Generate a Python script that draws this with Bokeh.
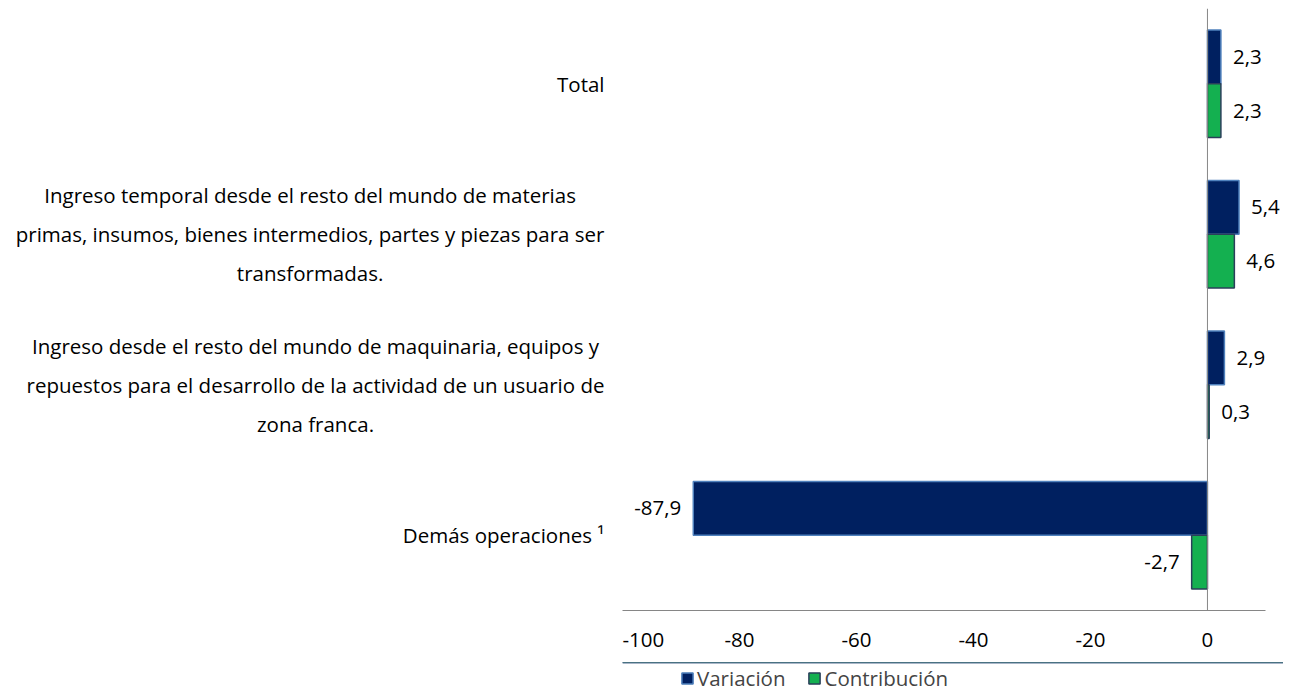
from bokeh.plotting import figure
from bokeh.models import (ColumnDataSource, FactorRange, Range1d, Span, Legend, LegendItem,
                          FixedTicker, LabelSet)
from bokeh.layouts import row, column
from bokeh.transform import dodge
from bokeh.core.properties import value
from bokeh.embed import file_html
from bokeh.resources import INLINE

# ---- data ----
categories = [
    "Total",
    "Ingreso temporal desde el resto del mundo de materias\nprimas, insumos, bienes intermedios, partes y piezas para ser\ntransformadas.",
    "Ingreso desde el resto del mundo de maquinaria, equipos y\nrepuestos para el desarrollo de la actividad de un usuario de\nzona franca.",
    "Demás operaciones ¹",
]
variacion = [2.3, 5.4, 2.9, -87.9]
contribucion = [2.3, 4.6, 0.3, -2.7]
series_names = ["Variación", "Contribución"]
x_ticks = [-100, -80, -60, -40, -20, 0]
axis_min, axis_max = -100, 10

FONT = "Open Sans"
FS = "20.5px"
NAVY = "#002060"
NAVY_LINE = "#4F81BD"
GREEN = "#14B050"
GREEN_LINE = "#2A3F5A"

factors = list(reversed(categories))
y_range = FactorRange(factors=factors, range_padding=0)


def fmt(v):
    return f"{v:.1f}".replace(".", ",")


def label_cols(vals):
    return dict(
        cat=categories,
        val=vals,
        lab=[fmt(v) for v in vals],
        align=["left" if v >= 0 else "right" for v in vals],
        off=[12 if v >= 0 else -12 for v in vals],
    )


src_v = ColumnDataSource(label_cols(variacion))
src_c = ColumnDataSource(label_cols(contribucion))

# ---- chart ----
px_per_unit = 643 / (axis_max - axis_min)
x_end = axis_max + 3  # room for value labels beyond the axis end
FW = int(round((x_end - axis_min) * px_per_unit))
p = figure(y_range=y_range, x_range=Range1d(axis_min, x_end),
           frame_width=FW, frame_height=602,
           output_backend="svg", toolbar_location=None, y_axis_location=None,
           min_border_left=0, min_border_right=0, min_border_top=8, min_border_bottom=52)
p.outline_line_color = None
p.grid.visible = False

bw = 0.357
bar_styles = [dict(fill_color=NAVY, line_color=NAVY_LINE, line_width=1.5),
              dict(fill_color=GREEN, line_color=GREEN_LINE, line_width=1.5)]
p.hbar(y=dodge("cat", bw / 2, range=y_range), left=0, right="val", height=bw, source=src_v,
       **bar_styles[0])
p.hbar(y=dodge("cat", -bw / 2, range=y_range), left=0, right="val", height=bw, source=src_c,
       **bar_styles[1])

for src, d in ((src_v, bw / 2), (src_c, -bw / 2)):
    p.add_layout(LabelSet(x="val", y=dodge("cat", d, range=y_range), text="lab", source=src,
                          x_offset="off", text_align="align", text_baseline="middle",
                          text_font=value(FONT), text_font_size=FS, text_color="black"))

p.add_layout(Span(location=0, dimension="height", line_color="#868686", line_width=1))

ax = p.xaxis[0]
ax.ticker = FixedTicker(ticks=x_ticks)
ax.bounds = (axis_min, axis_max)
ax.major_label_overrides = {t: str(t) for t in x_ticks}
ax.axis_line_color = "#868686"
ax.major_tick_line_color = None
ax.minor_tick_line_color = None
ax.major_tick_out = 0
ax.major_tick_in = 0
ax.minor_tick_out = 0
ax.minor_tick_in = 0
ax.axis_label = None
ax.major_label_standoff = 22
ax.axis_label_standoff = 0
ax.major_label_text_font = FONT
ax.major_label_text_font_size = FS
ax.major_label_text_color = "black"

# ---- legend strip (own small figure, so the legend sits inside a frame) ----
lg = figure(x_range=Range1d(0, 1), y_range=Range1d(0, 1), frame_width=FW, frame_height=30,
            output_backend="svg", toolbar_location=None, x_axis_location=None,
            y_axis_location=None, min_border=0)
lg.outline_line_color = None
lg.grid.visible = False
# stand-in renderers for the legend swatches; their single bar lies outside this strip's view
leg_renderers = [lg.hbar(y=[5], left=[0], right=[1], height=0.5, **st) for st in bar_styles]
legend = Legend(items=[LegendItem(label=n, renderers=[r]) for n, r in zip(series_names, leg_renderers)],
                orientation="horizontal", location=(58, 0),
                label_text_font=FONT, label_text_font_size=FS,
                glyph_width=14, glyph_height=14, spacing=22, label_standoff=3,
                padding=1, margin=0, border_line_color=None, background_fill_alpha=0)
lg.add_layout(legend)

# ---- category labels panel ----
lp = figure(y_range=y_range, x_range=Range1d(0, 622), frame_width=622, frame_height=602,
            output_backend="svg", toolbar_location=None, x_axis_location=None,
            y_axis_location=None, min_border=0, min_border_top=8)
lp.outline_line_color = None
lp.grid.visible = False
lp.text(x=[604] * len(categories), y=categories, text=categories,
        anchor="center_right", text_align="center", text_baseline="middle",
        text_font=value(FONT), text_font_size=FS, text_line_height=1.4, text_color="black")

layout = row(lp, column(p, lg))
open("out.html", "w").write(file_html(layout, INLINE))
